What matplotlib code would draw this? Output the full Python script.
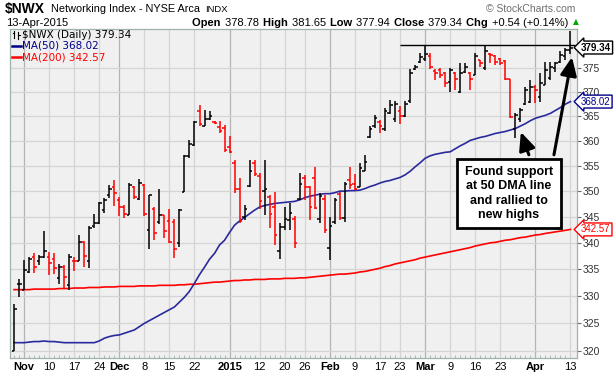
import numpy as np
import pandas as pd
import matplotlib
matplotlib.use("Agg")
import matplotlib.pyplot as plt
from matplotlib.transforms import blended_transform_factory

plt.rcParams['font.family'] = ['Liberation Sans', 'DejaVu Sans']

# ---------------- data ----------------
holidays = ["2014-11-27", "2014-12-25", "2015-01-01", "2015-01-19", "2015-02-16", "2015-04-03"]
dates = [d for d in pd.bdate_range("2014-10-30", "2015-04-13") if d.strftime("%Y-%m-%d") not in holidays]

opens = [320.0, 332.2, 331.2, 334.5, 337.3, 336.5, 337.3, 337.3, 337.0, 333.3,
         335.5, 332.0, 336.5, 336.5, 340.2, 336.5, 343.2, 343.8, 346.3, 349.2,
         350.9, 348.2, 346.9, 345.4, 350.8, 348.4, 351.2, 342.5, 346.6, 344.0,
         345.3, 344.1, 344.0, 339.9, 349.9, 357.0, 359.2, 366.0, 363.1, 364.4,
         363.8, 362.8, 362.6, 358.7, 355.5, 350.5, 345.0, 351.0, 355.5, 353.0,
         350.0, 348.8, 347.0, 338.5, 343.0, 344.4, 344.5, 348.5, 352.5, 350.8,
         352.5, 344.5, 348.5, 339.0, 344.0, 349.5, 344.7, 352.2, 351.5, 350.8,
         354.0, 360.8, 363.0, 363.9, 362.4, 365.6, 364.5, 366.0, 365.1, 368.1,
         374.8, 376.2, 377.0, 377.5, 374.4, 374.5, 374.0, 372.0, 373.9, 370.0,
         374.2, 374.0, 373.5, 376.7, 375.0, 378.0, 377.5, 377.0, 376.5, 372.8,
         362.5, 364.5, 367.5, 368.0, 371.0, 369.0, 371.5, 373.0, 375.0, 376.2,
         377.5, 378.78]
highs = [328.6, 333.1, 336.8, 337.4, 338.1, 337.7, 342.2, 338.2, 338.1, 336.0,
         335.8, 337.8, 337.3, 341.5, 340.4, 343.2, 345.6, 347.9, 348.6, 351.2,
         352.1, 348.9, 347.3, 351.6, 351.0, 352.4, 351.5, 349.3, 346.9, 350.4,
         345.3, 346.5, 344.6, 346.6, 357.1, 360.2, 364.0, 367.3, 366.2, 366.0,
         364.0, 364.0, 363.2, 360.9, 356.2, 352.6, 347.3, 356.2, 356.2, 353.5,
         356.2, 349.3, 349.9, 343.9, 347.0, 347.7, 345.1, 353.6, 353.2, 351.0,
         354.7, 349.6, 349.3, 345.0, 348.6, 349.9, 351.8, 354.8, 353.4, 355.5,
         357.2, 363.1, 365.3, 364.3, 366.7, 368.4, 368.1, 367.1, 368.1, 374.9,
         375.6, 378.1, 379.9, 378.2, 374.8, 375.1, 374.2, 375.0, 374.2, 376.0,
         376.0, 374.2, 378.1, 376.7, 379.9, 378.1, 377.75, 377.1, 376.7, 372.8,
         365.6, 366.6, 371.1, 372.5, 371.4, 373.9, 376.3, 376.3, 376.3, 378.5,
         379.2, 382.8]
lows = [320.0, 329.9, 331.1, 334.3, 334.3, 335.9, 337.2, 333.9, 334.2, 332.3,
        331.4, 331.2, 334.7, 336.5, 335.5, 335.2, 342.8, 343.7, 345.8, 348.6,
        347.1, 345.1, 344.7, 345.3, 348.4, 348.2, 345.1, 338.8, 340.5, 343.7,
        340.9, 339.9, 337.2, 339.3, 349.9, 356.6, 358.9, 363.0, 363.0, 364.3,
        363.4, 361.6, 357.8, 357.5, 349.6, 343.8, 344.4, 350.9, 353.0, 346.5,
        345.4, 342.9, 339.5, 337.0, 342.5, 342.5, 339.0, 348.3, 348.3, 344.4,
        346.6, 343.8, 341.9, 336.7, 343.7, 344.4, 344.0, 350.5, 350.2, 350.8,
        353.9, 360.5, 362.7, 361.6, 362.0, 365.4, 363.8, 363.4, 364.8, 367.7,
        374.6, 376.1, 376.4, 374.9, 372.5, 372.9, 371.0, 370.0, 370.4, 369.7,
        373.9, 370.4, 373.5, 375.3, 374.6, 376.0, 375.6, 375.6, 372.5, 364.6,
        360.5, 363.9, 367.3, 367.7, 367.7, 368.0, 371.4, 372.5, 374.2, 376.0,
        376.7, 377.94]
closes = [327.6, 332.2, 334.8, 336.9, 335.5, 337.3, 338.5, 336.2, 335.3, 335.5,
          333.6, 337.3, 336.5, 340.2, 337.5, 342.8, 343.8, 347.6, 348.2, 350.5,
          349.7, 346.9, 345.6, 351.2, 348.9, 351.6, 345.5, 349.2, 341.8, 345.3,
          342.2, 340.2, 338.8, 346.4, 356.9, 359.4, 363.8, 363.4, 364.4, 365.0,
          363.6, 361.9, 358.1, 357.7, 350.5, 344.2, 346.6, 353.9, 353.4, 348.0,
          350.5, 345.5, 341.5, 343.0, 344.5, 345.7, 340.0, 351.5, 350.8, 347.0,
          346.8, 349.0, 342.5, 343.3, 348.2, 344.7, 351.5, 351.2, 350.5, 354.5,
          355.8, 362.5, 364.6, 363.0, 366.0, 367.4, 367.6, 365.0, 367.6, 374.0,
          375.2, 377.4, 378.0, 375.3, 373.9, 373.5, 371.8, 374.5, 372.8, 373.9,
          375.3, 372.8, 377.5, 376.0, 378.5, 377.75, 376.3, 376.0, 372.8, 364.8,
          365.2, 366.2, 370.5, 371.1, 370.4, 371.8, 374.5, 375.3, 376.0, 377.8,
          378.8, 379.34]
ma50 = [321.5, 321.5, 321.5, 321.6, 321.7, 321.7, 321.8, 321.7, 321.7, 321.6,
        321.5, 321.5, 321.5, 321.5, 321.5, 321.5,
        321.5, 321.8, 322.3, 322.6, 322.8, 322.9, 323.2, 323.5, 323.8, 324.4,
        325.0, 325.5, 326.0, 326.5, 327.0, 327.5, 328.0, 328.9, 329.8, 330.9,
        332.4, 334.0, 335.4, 336.9, 338.0, 339.6, 340.5, 342.0, 343.4, 344.2,
        344.9, 345.6, 346.3, 346.9, 347.2, 347.4, 347.6, 347.7, 347.8, 347.9,
        348.0, 348.3, 348.7, 349.0, 349.2, 349.4, 349.5, 349.5, 349.7, 350.0,
        350.0, 350.1, 350.1, 350.2, 350.5, 350.9, 351.2, 351.6, 351.9, 352.1,
        352.4, 352.7, 353.2, 353.9, 354.8, 355.6, 356.5, 357.0, 357.3, 357.5,
        357.7, 357.8, 358.4, 359.0, 359.5, 360.1, 360.4, 360.7, 360.9, 361.2,
        361.5, 361.7, 361.9, 362.2, 362.5, 363.0, 363.5, 364.1, 364.6, 364.9,
        365.2, 365.6, 366.2, 366.8, 367.5, 368.02]
ma200 = [331.2, 331.2, 331.2, 331.2, 331.3, 331.3, 331.3, 331.3, 331.3, 331.4, 331.4,
         331.4, 331.5, 331.5, 331.5, 331.6, 331.6, 331.6, 331.7, 331.7, 331.7, 331.8,
         331.8, 331.8, 331.8, 331.9, 331.9, 331.9, 331.9, 332.0, 332.0, 332.0, 332.0,
         332.1, 332.1, 332.2, 332.2, 332.3,
         332.4, 332.5, 332.6, 332.6, 332.7, 332.8, 332.9, 332.9, 333.0,
         333.0, 333.1, 333.1, 333.1, 333.2, 333.2, 333.2, 333.3, 333.3, 333.3, 333.4, 333.4,
         333.5, 333.6, 333.7, 333.8, 333.9,
         334.0, 334.1, 334.1, 334.2, 334.3,
         334.5, 334.6, 334.8, 335.0,
         335.2, 335.5, 335.7, 336.0, 336.2,
         336.4, 336.6, 336.8, 337.1, 337.3,
         337.5, 337.7, 337.9, 338.1, 338.3, 338.5,
         338.7, 338.9, 339.1, 339.4, 339.6, 339.8,
         340.0, 340.1, 340.3, 340.5, 340.6, 340.8,
         341.0, 341.1, 341.3, 341.5, 341.6, 341.8,
         341.95, 342.1, 342.25, 342.4, 342.57]

resistance_level = 379.9
resistance_start = "2015-02-23"

tick_dates = ["2014-11-03", "2014-11-10", "2014-11-17", "2014-11-24", "2014-12-01", "2014-12-08",
              "2014-12-15", "2014-12-22", "2015-01-02", "2015-01-12", "2015-01-20", "2015-01-26",
              "2015-02-02", "2015-02-09", "2015-02-17", "2015-02-23", "2015-03-02", "2015-03-09",
              "2015-03-16", "2015-03-23", "2015-04-01", "2015-04-13"]
tick_labels = ["Nov", "10", "17", "24", "Dec", "8", "15", "22", "2015", "12", "20", "26",
               "Feb", "9", "17", "23", "Mar", "9", "16", "23", "Apr", "13"]
month_labels = {"Nov", "Dec", "2015", "Feb", "Mar", "Apr"}
y_ticks = [320, 325, 330, 335, 340, 345, 350, 355, 360, 365, 370, 375]

# ---------------- figure ----------------
W, H = 615, 376
fig = plt.figure(figsize=(W / 100, H / 100), dpi=100)
fig.patch.set_facecolor('white')
ax = fig.add_axes([10 / W, 1 - 358 / H, 567 / W, 329 / H])
ax.set_facecolor('#F0F0F0')

date_str = [d.strftime("%Y-%m-%d") for d in dates]
x = np.arange(len(dates))
o = np.array(opens); h = np.array(highs); l = np.array(lows); c = np.array(closes)
prev = np.concatenate([[c[0] - 1], c[:-1]])
cols = np.where(c < prev, '#FF0000', '#000000')

ax.set_yscale('log')
ax.set_xlim(-0.8, 112.3)
ax.set_ylim(318.75, 383.3)

# grid
tick_pos = [date_str.index(t) for t in tick_dates]
for p, lab in zip(tick_pos, tick_labels):
    ax.axvline(p, color='#B4B4B4' if lab in month_labels else '#D4D4D4', lw=0.9, zorder=0)
for yv in y_ticks:
    ax.axhline(yv, color='#D4D4D4', lw=0.9, zorder=0)

# MAs
ax.plot(x, ma200, color='#FF0000', lw=1.2, zorder=2)
ax.plot(x, ma50, color='#2A2A9C', lw=1.2, zorder=2)

# OHLC bars
ax.vlines(x, l, h, colors=cols, lw=1.1, zorder=3)
ax.hlines(o, x - 0.5, x, colors=cols, lw=1.1, zorder=3)
ax.hlines(c, x, x + 0.5, colors=cols, lw=1.1, zorder=3)

# resistance line
ax.hlines(resistance_level, date_str.index(resistance_start), 112.0, colors='black', lw=1.0, zorder=3)

# axes styling
for s in ax.spines.values():
    s.set_color('#9FB3AB')
    s.set_linewidth(0.9)
ax.yaxis.tick_right()
ax.set_yticks(y_ticks)
ax.set_yticklabels([str(v) for v in y_ticks])
ax.yaxis.set_minor_locator(matplotlib.ticker.NullLocator())
ax.tick_params(axis='y', which='major', direction='out', length=3, width=0.8, color='#666666',
               labelsize=7.5, labelcolor='#333333', pad=1)
ax.set_xticks(tick_pos)
ax.set_xticklabels(tick_labels)
ax.tick_params(axis='x', length=0, labelsize=8, pad=3)
for t in ax.get_xticklabels():
    if t.get_text() in month_labels:
        t.set_fontweight('bold')
ax.set_xticks(x, minor=True)
ax.tick_params(axis='x', which='minor', direction='in', length=2, width=0.6, color='#9FB3AB')

# value boxes on right axis
bt = blended_transform_factory(ax.transAxes, ax.transData)
for val, txt, col, wt in [(closes[-1], f"{closes[-1]:.2f}", 'black', 'bold'),
                          (ma50[-1], f"{ma50[-1]:.2f}", '#00008B', 'normal'),
                          (ma200[-1], f"{ma200[-1]:.2f}", '#FF0000', 'normal')]:
    ax.text((581 - 10) / 567, val, txt, transform=bt, ha='left', va='center', fontsize=7, color=col,
            fontweight=wt, zorder=6, clip_on=False,
            bbox=dict(boxstyle='larrow,pad=0.15', fc='white', ec=col, lw=1.0))

# legend inside plot
def fx(px):
    return (px - 10) / 567
def fy(py):
    return 1 - (py - 29) / 329
ax.text(fx(22), fy(35), f"$NWX (Daily) {closes[-1]:.2f}", transform=ax.transAxes, fontsize=7.5,
        family='DejaVu Sans', va='center', ha='left', color='black', zorder=7)
ax.text(fx(22), fy(46), f"MA(50) {ma50[-1]:.2f}", transform=ax.transAxes, fontsize=7.5,
        family='DejaVu Sans', va='center', ha='left', color='#00008B', zorder=7)
ax.text(fx(22), fy(57), f"MA(200) {ma200[-1]:.2f}", transform=ax.transAxes, fontsize=7.5,
        family='DejaVu Sans', va='center', ha='left', color='#FF0000', zorder=7)
ax.plot([fx(12), fx(21)], [fy(46), fy(46)], transform=ax.transAxes, color='#00008B', lw=1.8, zorder=7)
ax.plot([fx(12), fx(21)], [fy(57), fy(57)], transform=ax.transAxes, color='#FF0000', lw=1.8, zorder=7)
# tiny bar icon
ax.plot([fx(14), fx(14)], [fy(31), fy(38)], transform=ax.transAxes, color='black', lw=0.8, zorder=7)
ax.plot([fx(12.5), fx(14)], [fy(33), fy(33)], transform=ax.transAxes, color='black', lw=0.8, zorder=7)
ax.plot([fx(18), fx(18)], [fy(32), fy(39)], transform=ax.transAxes, color='black', lw=0.8, zorder=7)
ax.plot([fx(18), fx(19.5)], [fy(35), fy(35)], transform=ax.transAxes, color='black', lw=0.8, zorder=7)

# annotation box and arrows
ax.annotate('', xy=(101.1, 361.8), xytext=(102.7, 357.2),
            arrowprops=dict(arrowstyle='-|>,head_length=1.0,head_width=0.45', lw=2.2, color='black',
                            mutation_scale=11, shrinkA=0, shrinkB=0), zorder=4)
ax.annotate('', xy=(111.3, 377.3), xytext=(107.7, 357.2),
            arrowprops=dict(arrowstyle='-|>,head_length=1.0,head_width=0.45', lw=2.2, color='black',
                            mutation_scale=11, shrinkA=0, shrinkB=0), zorder=4)
ax.text(fx(509), fy(193.5), "Found support\nat 50 DMA line\nand rallied to\nnew highs",
        transform=ax.transAxes, ha='center', va='center', multialignment='center',
        fontsize=9, fontweight='bold', linespacing=1.24, zorder=5,
        bbox=dict(boxstyle='square,pad=0.62', fc='white', ec='black', lw=2))

# header
renderer = fig.canvas.get_renderer()
fig.text(5 / W, 1 - 9 / H, "$NWX", fontsize=10, fontweight='bold', va='center', ha='left')
t_name = fig.text(51 / W, 1 - 9 / H, "Networking Index - NYSE Arca", fontsize=7.8, va='center', ha='left')
name_end = t_name.get_window_extent(renderer=renderer).x1
fig.text((name_end + 5) / W, 1 - 9.5 / H, "INDX", fontsize=6.8, va='center', ha='left')
fig.text(6 / W, 1 - 22.5 / H, "13-Apr-2015", fontsize=8, va='center', ha='left')
fig.text(575 / W, 1 - 9 / H, "\u00a9 StockCharts.com", fontsize=7.5, color='#707070', va='center', ha='right')

pieces = [("Open ", 'bold'), ("378.78 ", 'normal'), ("High ", 'bold'), ("381.65 ", 'normal'),
          ("Low ", 'bold'), ("377.94 ", 'normal'), ("Close ", 'bold'), ("379.34 ", 'normal'),
          ("Chg ", 'bold'), ("+0.54 (+0.14%)", 'normal')]
cx = 192
for txt, wt in pieces:
    t = fig.text(cx / W, 1 - 22.5 / H, txt, fontsize=8, fontweight=wt, va='center', ha='left')
    bb = t.get_window_extent(renderer=renderer)
    cx += bb.width + 1.0
fig.text((cx + 6) / W, 1 - 22 / H, "\u25b2", fontsize=5.5, color='#00AA00', va='center', ha='center',
         family='DejaVu Sans')

fig.savefig('out.png', dpi=100, facecolor='white')
